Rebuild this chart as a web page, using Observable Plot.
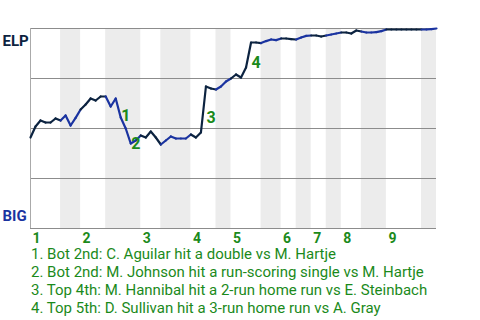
<!DOCTYPE html>
<html><head><meta charset="utf-8">
<script src="https://cdn.jsdelivr.net/npm/d3@7"></script>
<script src="https://cdn.jsdelivr.net/npm/@observablehq/plot@0.6"></script>
<style>
body{margin:0;background:#fff;font-family:Roboto,sans-serif;}
#notes{padding-left:31px;color:#1b8a1b;font-size:15px;line-height:18px;}
</style></head><body>
<div id="chart"></div>
<div id="notes"></div>
<script>
// ELP win probability after each play (play 0 = start)
const wp = [0.455,0.51,0.54,0.53,0.53,0.55,0.54,0.565,0.515,0.553,
  0.595,0.62,0.65,0.64,0.66,0.66,0.61,0.65,0.555,0.50,
  0.425,0.44,0.465,0.455,0.485,0.455,0.42,0.44,0.46,0.45,
  0.45,0.45,0.47,0.455,0.48,0.71,0.70,0.695,0.71,0.735,
  0.75,0.77,0.755,0.805,0.93,0.93,0.927,0.937,0.945,0.942,
  0.95,0.95,0.947,0.945,0.955,0.963,0.965,0.965,0.96,0.965,
  0.97,0.975,0.98,0.98,0.975,0.99,0.985,0.98,0.98,0.982,
  0.987,0.995,0.995,0.995,0.995,0.995,0.995,0.995,0.995,0.995,
  0.997,1.0];
// play index where each half-inning starts (last = end of game)
const halfBounds = [0,6,10,15,22,26,32,37,40,46,50,53,56,59,62,66,71,78,81];
const inningLabels = ["1","2","3","4","5","6","7","8","9"];
const gridValues = [0,0.25,0.5,0.75,1];
const keyPlays = [18,20,35,44];
const keyLabels = ["1","2","3","4"];
const keyTexts = [
  "1. Bot 2nd: C. Aguilar hit a double vs M. Hartje",
  "2. Bot 2nd: M. Johnson hit a run-scoring single vs M. Hartje",
  "3. Top 4th: M. Hannibal hit a 2-run home run vs E. Steinbach",
  "4. Top 5th: D. Sullivan hit a 3-run home run vs A. Gray"
];
const teamTop = "ELP", teamBottom = "BIG";
const colorTop = "#0c2340", colorBottom = "#1a33a0", green = "#1b8a1b";

const inningStarts = halfBounds.filter((d,i)=>i%2===0 && i<halfBounds.length-1);
const bottomHalves = [];
for (let h=1; h<halfBounds.length-1; h+=2) bottomHalves.push({a:halfBounds[h], b:halfBounds[h+1]});
const halfOf = p => { for (let h=0; h<halfBounds.length-1; h++) if (p>halfBounds[h] && p<=halfBounds[h+1]) return h; return 0; };
const segments = [];
for (let p=1; p<wp.length; p++) segments.push({x1:p-1, x2:p, y1:wp[p-1], y2:wp[p], c: halfOf(p)%2===0 ? colorTop : colorBottom});
const keyPts = keyPlays.map((p,i)=>({x:p-0.5, y:(wp[p-1]+wp[p])/2, t:keyLabels[i]}));

const chart = Plot.plot({
  width:480, height:245, marginLeft:30, marginRight:44, marginTop:28, marginBottom:17,
  style:{fontFamily:"Roboto, sans-serif", background:"#fff"},
  x:{domain:[0,81]},
  y:{domain:[0,1], axis:null},
  marks:[
    Plot.rect(bottomHalves, {x1:"a", x2:"b", y1:0, y2:1, fill:"#ececec"}),
    Plot.ruleY(gridValues, {stroke:"#8c8c8c", strokeWidth:1.2}),
    Plot.ruleX([0], {stroke:"#aaa"}),
    Plot.link(segments, {x1:"x1", y1:"y1", x2:"x2", y2:"y2", stroke:d=>d.c, strokeWidth:2.2, strokeLinecap:"round"}),
    Plot.text(keyPts, {x:"x", y:"y", text:"t", dx:3, dy:8, textAnchor:"start", fill:green, fontWeight:"bold", fontSize:16}),
    Plot.axisX({ticks:inningStarts, tickFormat:d=>inningLabels[inningStarts.indexOf(d)], tickSize:0, tickPadding:5, textAnchor:"start", dx:2, fill:green, fontWeight:"bold", fontSize:14, label:null}),
    Plot.text([teamTop], {frameAnchor:"top-left", text:d=>d, dx:-28, dy:7, textAnchor:"start", fill:colorTop, fontWeight:"bold", fontSize:15}),
    Plot.text([teamBottom], {frameAnchor:"bottom-left", text:d=>d, dx:-28, dy:-8, textAnchor:"start", fill:colorBottom, fontWeight:"bold", fontSize:15})
  ]
});
document.getElementById("chart").appendChild(chart);
const notes = document.getElementById("notes");
keyTexts.forEach(t=>{ const d=document.createElement("div"); d.textContent=t; notes.appendChild(d); });
</script></body></html>
